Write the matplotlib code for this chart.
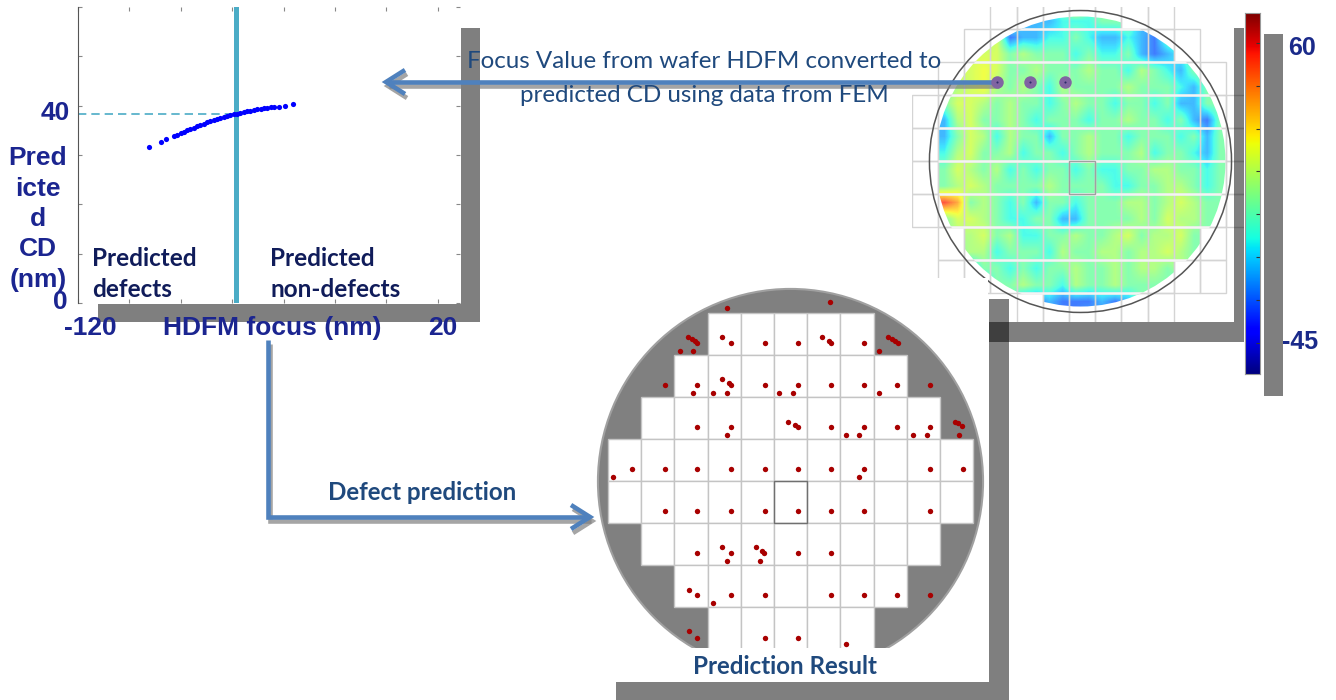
import numpy as np
import matplotlib
matplotlib.use('Agg')
import matplotlib.pyplot as plt
from matplotlib.patches import Rectangle, Ellipse, Polygon

W, H = 1336, 700

# ---- data: predicted CD vs HDFM focus ----
focus = [-92.2, -87.9, -85.6, -82.7, -81.4, -80.1, -78.8, -77.5, -76.3, -75.0,
         -73.7, -72.4, -71.1, -69.8, -68.5, -67.2, -65.9, -64.6, -63.3, -62.0,
         -60.7, -59.4, -58.1, -56.8, -55.5, -54.2, -52.9, -51.6, -50.3, -49.0,
         -47.7, -46.4, -45.1, -43.8, -41.9, -39.3, -36.3]
pred_cd = [31.6, 32.6, 33.2, 33.9, 34.1, 34.4, 34.7, 35.0, 35.2, 35.5,
           35.8, 36.0, 36.3, 36.6, 36.8, 37.1, 37.3, 37.5, 37.7, 37.9,
           38.1, 38.3, 38.4, 38.6, 38.8, 38.9, 39.0, 39.1, 39.3, 39.4,
           39.5, 39.6, 39.7, 39.8, 39.8, 40.0, 40.3]
focus_threshold = -58.4
cd_threshold = 38.3

# ---- data: HDFM wafer map, half-die resolution, digit -> level ----
focus_levels = [-30, -20, -9, 3, 12, 19, 25, 40, 55]
hdfm_rows = [
    "4444444444844444444444",
    "4444442223334442244444",
    "4444612233432232144444",
    "4466645444343342123444",
    "4667644544454435432444",
    "4567545435444454443244",
    "4665454434544344342244",
    "2564454344434454434214",
    "2465354424454434443424",
    "3564453443454445344324",
    "4654534344343344554434",
    "4565444454444334455434",
    "9845434244344455456544",
    "4665433442244445465544",
    "4556453344544564556444",
    "4455344435445545565444",
    "4424434344544545545444",
    "4442445443544544442444",
    "4444441121112124444444",
    "4444442221121244444444",
]
# measured dies per row (first col, last col), and die grid drawn per row
hdfm_dies = [(3, 6), (1, 8), (0, 10), (0, 10), (0, 10), (0, 10), (0, 10), (1, 9), (1, 8), (4, 7)]
hdfm_grid = [(2, 8), (1, 9), (0, 10), (-1, 11), (-1, 11), (-1, 11), (-1, 11), (0, 10), (0, 10), (3, 8)]
cbar_min, cbar_max = -56, 70.5
cbar_ticks = [60, 45, 30, 15, 0, -15, -30, -45]

# ---- data: prediction result wafer ----
pred_dies = [(3, 7), (2, 8), (1, 9), (0, 10), (0, 10), (1, 9), (2, 8), (3, 7)]
defect_u = [3.57, 6.69, 2.42, 2.52, 2.62, 2.69, 2.17, 2.57, 3.42, 3.72, 4.73, 5.73, 6.44, 6.67, 6.71, 7.71, 8.44, 8.54, 8.64, 8.74, 8.17,
            1.72, 2.69, 2.57, 3.17, 3.42, 3.65, 3.72, 3.57, 4.73, 5.16, 5.58, 5.73, 6.71, 7.71, 8.17, 8.71, 9.70,
            2.69, 3.72, 3.57, 5.43, 5.63, 5.73, 6.71, 7.17, 7.57, 7.71, 8.71, 9.18, 9.60, 9.70, 10.45, 10.55, 10.65, 10.58,
            0.16, 0.71, 1.72, 2.69, 3.72, 4.73, 5.73, 6.71, 7.57, 7.71, 9.70, 10.70,
            1.72, 2.69, 3.72, 4.73, 5.73, 6.71, 7.71, 9.70,
            2.69, 3.42, 3.72, 3.57, 4.45, 4.63, 4.70, 4.58, 5.73, 6.71,
            2.44, 2.69, 3.17, 3.72, 4.73, 6.71, 7.71, 8.71, 9.70,
            2.44, 2.69, 4.73, 5.73, 7.17]
defect_v = [-0.11, -0.27, 0.56, 0.63, 0.67, 0.72, 0.90, 0.90, 0.58, 0.72, 0.72, 0.72, 0.58, 0.66, 0.72, 0.72, 0.56, 0.62, 0.67, 0.72, 0.90,
            1.72, 1.72, 1.90, 1.90, 1.58, 1.66, 1.72, 1.90, 1.72, 1.90, 1.90, 1.72, 1.72, 1.72, 1.90, 1.72, 1.72,
            2.72, 2.72, 2.90, 2.59, 2.67, 2.72, 2.72, 2.90, 2.90, 2.72, 2.72, 2.90, 2.90, 2.72, 2.59, 2.63, 2.68, 2.90,
            3.90, 3.72, 3.72, 3.72, 3.72, 3.72, 3.72, 3.72, 3.90, 3.72, 3.72, 3.72,
            4.71, 4.71, 4.71, 4.71, 4.71, 4.71, 4.71, 4.71,
            5.72, 5.58, 5.72, 5.90, 5.58, 5.66, 5.72, 5.90, 5.72, 5.72,
            6.60, 6.71, 6.90, 6.71, 6.71, 6.71, 6.71, 6.71, 6.71,
            7.57, 7.73, 7.73, 7.73, 7.89]

NAVY = '#1b2590'
DARK = '#101c5a'
TXT = '#1f497d'
BLUE = '#4f81bd'
AQUA = '#4bacc6'

fig = plt.figure(figsize=(W / 100, H / 100), dpi=100)


def px_axes(x0, y0, x1, y1, z):
    return fig.add_axes([x0 / W, 1 - y1 / H, (x1 - x0) / W, (y1 - y0) / H], zorder=z)


# ---- HDFM wafer map (top right) ----
axw = px_axes(912, 7, 1244, 322, 1)
axw.set_xlim(-0.992, 11.68)
axw.set_ylim(9.87, 0.324)
axw.axis('off')
grid = np.array([[focus_levels[int(c) - 1] for c in row] for row in hdfm_rows], float)
im = axw.imshow(grid, cmap='jet', vmin=cbar_min, vmax=cbar_max, extent=(0, 11, 10, 0),
                interpolation='bilinear', alpha=0.75, aspect='auto', zorder=1)
im.set_clip_path(Ellipse((5.439, 5.006), 11.07, 8.79, transform=axw.transData))
for j, (a, b) in enumerate(hdfm_dies):
    for k in range(11):
        if k < a or k > b:
            axw.add_patch(Rectangle((k, j), 1, 1, fc='white', ec='none', zorder=2))
for j, (a, b) in enumerate(hdfm_grid):
    for k in range(a, b + 1):
        axw.add_patch(Rectangle((k, j), 1, 1, fill=False, ec='#d4d4d4', lw=1, zorder=3))
rl = axw.hlines(range(1, 10), 0, 11, color='#f4f4f4', lw=1.8, zorder=3.5)
rl.set_clip_path(Ellipse((5.439, 5.006), 11.07, 8.79, transform=axw.transData))
axw.add_patch(Rectangle((5, 5), 1, 1, fill=False, ec='#a0a0a0', lw=1, zorder=3.6))
axw.add_patch(Ellipse((5.439, 5.006), 11.53, 9.15, fill=False, ec='#555555', lw=1.1, zorder=4))

# ---- colorbar ----
axc = px_axes(1245, 13, 1260, 374, 1)
axc.imshow(np.linspace(cbar_min, cbar_max, 256).reshape(-1, 1), cmap='jet', vmin=cbar_min,
           vmax=cbar_max, extent=(0, 1, cbar_min, cbar_max), origin='lower', aspect='auto')
axc.set_xticks([])
axc.set_yticks(cbar_ticks)
axc.yaxis.tick_right()
axc.tick_params(direction='in', length=3, color='#333333', labelright=False)
for s in axc.spines.values():
    s.set_color('#999999')
    s.set_linewidth(0.8)

# ---- prediction result wafer (bottom) ----
axp = px_axes(590, 278, 988, 683, 2)
axp.set_xlim(-0.542, 11.446)
axp.set_ylim(8.81, -0.833)
axp.set_facecolor('white')
for s in axp.spines.values():
    s.set_visible(False)
axp.set_xticks([])
axp.set_yticks([])
axp.add_patch(Ellipse((5.497, 4.012), 11.6, 9.17, fc='#808080', ec='#a0a0a0', lw=1.5, zorder=1))
for r, (a, b) in enumerate(pred_dies):
    for c in range(a, b + 1):
        axp.add_patch(Rectangle((c, r), 1, 1, fc='white', ec='#c4c4c4', lw=1, zorder=2))
axp.add_patch(Rectangle((5, 4), 1, 1, fill=False, ec='#707070', lw=1, zorder=2.5))
axp.scatter(defect_u, defect_v, s=15, marker='o', color='#a80000', linewidths=0, zorder=3)
axp.add_patch(Rectangle((0.27, 7.98), 11.3, 0.9, fc='white', ec='none', zorder=4))

# ---- shadow bars ----
axb = px_axes(0, 0, W, H, 3)
axb.set_xlim(0, W)
axb.set_ylim(H, 0)
axb.axis('off')
bars = [
    [(461, 28), (480, 28), (480, 322), (98, 322), (98, 304), (461, 304)],
    [(1234, 28), (1244, 28), (1244, 342), (989, 342), (989, 322), (1234, 322)],
    [(989, 299), (1009, 299), (1009, 700), (616, 700), (616, 682), (989, 682)],
    [(1264, 34), (1283, 34), (1283, 396), (1264, 396)],
]
for b in bars:
    axb.add_patch(Polygon(b, closed=True, fc='black', alpha=0.5, lw=0))

# ---- CD vs focus plot ----
ax = px_axes(78, 7, 460, 303, 4)
ax.set_facecolor('none')
ax.set_xlim(-120, 28.6)
ax.set_ylim(0, 60)
ax.scatter(focus, pred_cd, s=14, color='#0000ff', linewidths=0, zorder=3)
ax.axvline(focus_threshold, color=AQUA, lw=3.6, zorder=2)
ax.hlines(cd_threshold, -120, focus_threshold, color=AQUA, lw=1.2, linestyles=(0, (5, 3)))
for s in ['top', 'right', 'bottom']:
    ax.spines[s].set_visible(False)
ax.spines['left'].set_color('#555555')
ax.set_xticks(np.arange(-120, 21, 20))
ax.set_yticks(np.arange(0, 61, 10))
ax.tick_params(direction='in', length=3, color='#888888', top=True, right=True,
               labelbottom=False, labelleft=False)

# ---- overlay: arrows and text ----
axo = px_axes(0, 0, W, H, 6)
axo.set_xlim(0, W)
axo.set_ylim(H, 0)
axo.axis('off')


def arrow(pts, head):
    xs, ys = zip(*pts)
    hx, hy = zip(*head)
    for dx, dy, col, al in [(2, 4, '#7f7f7f', 0.7), (0, 0, BLUE, 1)]:
        axo.plot([x + dx for x in xs], [y + dy for y in ys], color=col, alpha=al, lw=3.3,
                 solid_capstyle='butt', solid_joinstyle='miter')
        axo.plot([x + dx for x in hx], [y + dy for y in hy], color=col, alpha=al, lw=3.3,
                 solid_capstyle='butt', solid_joinstyle='miter')


arrow([(997, 82), (387, 82)], [(405, 70), (386, 82), (405, 94)])
arrow([(268, 340), (268, 517), (589, 517)], [(571, 505), (590, 517), (571, 529)])
for x in [997, 1030, 1065]:
    axo.plot(x, 82, 'o', ms=9, color='#8064a2', mec='none')
    axo.plot(x, 82, 'o', ms=1.5, color='#2a2a6a', mec='none')

axo.text(704, 61, 'Focus Value from wafer HDFM converted to', fontsize=17.4, family='Lato',
         color=TXT, ha='center', va='center')
axo.text(704, 95, 'predicted CD using data from FEM', fontsize=17.4, family='Lato',
         color=TXT, ha='center', va='center')
axo.text(422, 493, 'Defect prediction', fontsize=17.4, family='Lato', weight='bold',
         color=TXT, ha='center', va='center')
axo.text(785, 667, 'Prediction Result', fontsize=17.4, family='Lato', weight='bold',
         color=TXT, ha='center', va='center')

arial = dict(family='Liberation Sans', weight='bold', color=NAVY, fontsize=19,
             ha='center', va='center')
axo.text(55, 113, '40', **arial)
axo.text(60, 302, '0', **arial)
axo.text(38, 219, 'Pred\nicte\nd\nCD\n(nm)', multialignment='center', linespacing=1.33, **arial)
axo.text(90, 328, '-120', **arial)
axo.text(272, 328, 'HDFM focus (nm)', **arial)
axo.text(443, 328, '20', **arial)
axo.text(1302, 48, '60', **dict(arial, fontsize=18, color='#1a2a8a'))
axo.text(1300, 342, '-45', **dict(arial, fontsize=18, color='#1a2a8a'))

axo.text(92, 274, 'Predicted\ndefects', fontsize=17.5, family='Lato', weight='bold',
         color=DARK, ha='left', va='center', linespacing=1.42)
axo.text(270, 274, 'Predicted\nnon-defects', fontsize=17.5, family='Lato', weight='bold',
         color=DARK, ha='left', va='center', linespacing=1.42)

fig.savefig('out.png', dpi=100)
